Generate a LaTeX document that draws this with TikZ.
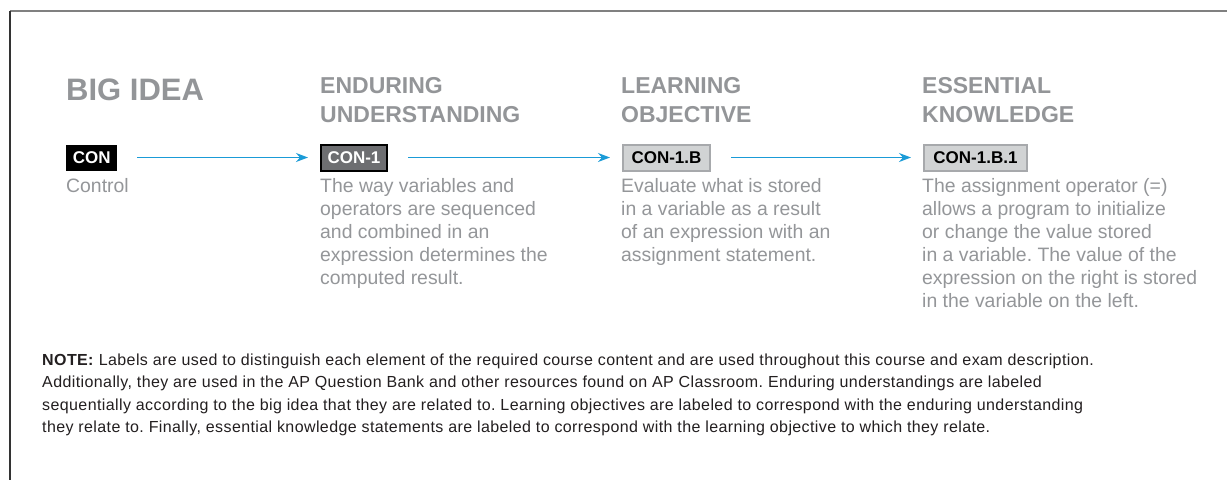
\documentclass[tikz,border=0pt]{standalone}
\usepackage{fontspec}
\setmainfont{Liberation Sans}
\usetikzlibrary{arrows.meta}
\definecolor{hgray}{HTML}{939598}
\definecolor{dgray}{HTML}{949699}
\definecolor{apblue}{HTML}{1A9BD7}
\definecolor{tagdark}{HTML}{6D6E71}
\definecolor{taglight}{HTML}{D1D3D4}
\definecolor{tagedge}{HTML}{A7A9AC}
\definecolor{notecol}{HTML}{231F20}
\definecolor{frametop}{HTML}{808080}
\definecolor{frameleft}{HTML}{333333}
\frenchspacing
\begin{document}
\begin{tikzpicture}[x=1pt,y=-1pt,
  bighead/.style={anchor=base west, inner sep=0pt, text=hgray, font=\fontsize{31}{31}\selectfont\bfseries},
  head/.style={anchor=north west, inner sep=0pt, align=left, text=hgray, font=\fontsize{23}{29}\selectfont\bfseries},
  desc/.style={anchor=north west, inner sep=0pt, align=left, text=dgray, font=\fontsize{19.4}{23}\selectfont},
  notetext/.style={anchor=north west, inner sep=0pt, align=left, text=notecol, font=\fontsize{16}{22.5}\selectfont\addfontfeatures{LetterSpace=2.5}},
  tag/.style={anchor=west, inner sep=0pt, minimum height=26pt, font=\fontsize{17}{17}\selectfont\bfseries},
  tagblack/.style={tag, fill=black, text=white},
  tagdarkbox/.style={tag, fill=tagdark, draw=black, line width=2pt, text=white},
  taglightbox/.style={tag, fill=taglight, draw=tagedge, line width=2pt, text=black},
  flow/.style={draw=apblue, line width=1.5pt, -{Stealth[length=12pt,width=9pt]}, shorten <=20pt, shorten >=12pt}
]
\useasboundingbox (0,0) rectangle (1227,480);
\fill[white] (0,0) rectangle (1227,480);
% frame
\draw[frametop, line width=2pt] (10,11) -- (1227,11);
\draw[frameleft, line width=1.2pt] (10,11) -- (10,480);

% headings
\node[bighead] (h1) at (66,100.5) {BIG IDEA};
\node[head] (h2) at (320,72.7) {\strut ENDURING\\UNDERSTANDING};
\node[head] (h3) at (621,72.7) {\strut LEARNING\\OBJECTIVE};
\node[head] (h4) at (922,72.7) {\strut ESSENTIAL\\KNOWLEDGE};

% tags
\node[tagblack, minimum width=51pt] (t1) at (66,157.5) {CON};
\node[tagdarkbox, minimum width=66pt] (t2) at (320,157.5) {CON-1};
\node[taglightbox, minimum width=87pt] (t3) at (622,157.5) {CON-1.B};
\node[taglightbox, minimum width=103pt] (t4) at (923,157.5) {CON-1.B.1};

% arrows
\draw[flow] (t1.east) -- (t2.west);
\draw[flow] (t2.east) -- (t3.west);
\draw[flow] (t3.east) -- (t4.west);

% descriptions
\node[desc] (d1) at (66,175.9) {\strut Control};
\node[desc] (d2) at (320,175.9) {\strut The way variables and\\operators are sequenced\\and combined in an\\expression determines the\\computed result.};
\node[desc] (d3) at (621,175.9) {\strut Evaluate what is stored\\in a variable as a result\\of an expression with an\\assignment statement.};
\node[desc] (d4) at (922,175.9) {\strut The assignment operator (=)\\allows a program to initialize\\or change the value stored\\in a variable. The value of the\\expression on the right is stored\\in the variable on the left.};

% note
\node[notetext] (note) at (42,349.25) {\strut\textbf{NOTE:} Labels are used to distinguish each element of the required course content and are used throughout this course and exam description.\\Additionally, they are used in the AP Question Bank and other resources found on AP Classroom. Enduring understandings are labeled\\sequentially according to the big idea that they are related to. Learning objectives are labeled to correspond with the enduring understanding\\they relate to. Finally, essential knowledge statements are labeled to correspond with the learning objective to which they relate.};
\end{tikzpicture}
\end{document}
